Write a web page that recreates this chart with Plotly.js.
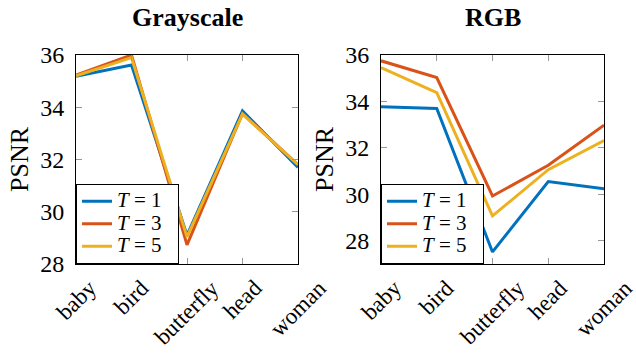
<!DOCTYPE html>
<html>
<head>
<meta charset="utf-8">
<script src="https://cdn.plot.ly/plotly-3.0.1.min.js"></script>
<style>html,body{margin:0;padding:0;background:#fff;}#chart{width:636px;height:360px;}</style>
</head>
<body>
<div id="chart"></div>
<script>
const categories = ["baby", "bird", "butterfly", "head", "woman"];
const seriesNames = ["<i>T</i> = 1", "<i>T</i> = 3", "<i>T</i> = 5"];
const grayT1 = [35.19, 35.62, 29.10, 33.86, 31.70];
const grayT3 = [35.23, 36.00, 28.73, 33.76, 31.80];
const grayT5 = [35.20, 35.90, 29.04, 33.74, 31.80];
const rgbT1 = [33.77, 33.70, 27.52, 30.55, 30.24];
const rgbT3 = [35.75, 35.03, 29.93, 31.25, 32.98];
const rgbT5 = [35.46, 34.38, 29.07, 31.06, 32.32];
const panelTitles = ["Grayscale", "RGB"];
const yTitle = "PSNR";

const colors = ["#0072BD", "#D95319", "#EDB120"];
const FONT = "Liberation Serif";

function legendLabel(s) {
  return '<span style="font-size:21px">' + s + '&nbsp;&nbsp;</span>';
}

const traces = [];
[grayT1, grayT3, grayT5].forEach((ys, i) => traces.push({
  x: categories, y: ys, type: "scatter", mode: "lines", name: legendLabel(seriesNames[i]),
  line: {color: colors[i], width: 3}, xaxis: "x", yaxis: "y", legend: "legend"
}));
[rgbT1, rgbT3, rgbT5].forEach((ys, i) => traces.push({
  x: categories, y: ys, type: "scatter", mode: "lines", name: legendLabel(seriesNames[i]),
  line: {color: colors[i], width: 3}, xaxis: "x2", yaxis: "y2", legend: "legend2"
}));

const W = 636, H = 360;
const leftDom = [76 / W, 298 / W];
const rightDom = [381 / W, 604 / W];
const yDom = [1 - 264 / H, 1 - 55 / H];

function xaxisDef(dom, anchor) {
  return {
    domain: dom, anchor: anchor, type: "category", range: [0, 4],
    showgrid: false, zeroline: false, showline: true, linecolor: "#000", linewidth: 1,
    mirror: "ticks", ticks: "inside", ticklen: 6, tickcolor: "#999", tickwidth: 1,
    showticklabels: false
  };
}
function yaxisDef(range, anchor) {
  return {
    domain: yDom, anchor: anchor, range: range, dtick: 2, tick0: 0,
    showgrid: false, zeroline: false, showline: true, linecolor: "#000", linewidth: 1,
    mirror: "ticks", ticks: "inside", ticklen: 6, tickcolor: "#999", tickwidth: 1,
    tickfont: {family: FONT, size: 24, color: "#000"}, ticklabelstandoff: 6,
    title: {text: yTitle, font: {family: FONT, size: 26, color: "#000"}, standoff: 4}
  };
}

const annotations = [];
categories.forEach(c => {
  ["x", "x2"].forEach(xr => annotations.push({
    x: c, xref: xr, y: 1 - 274 / H, yref: "paper", xanchor: "center", yanchor: "top",
    text: c, textangle: -45, showarrow: false, borderpad: 0,
    font: {family: FONT, size: 23, color: "#000"}
  }));
});
annotations.push({
  x: (leftDom[0] + leftDom[1]) / 2, y: 1 - 17 / H, xref: "paper", yref: "paper",
  xanchor: "center", yanchor: "middle", showarrow: false,
  text: "<b>" + panelTitles[0] + "</b>", font: {family: FONT, size: 26, color: "#000"}
});
annotations.push({
  x: (rightDom[0] + rightDom[1]) / 2, y: 1 - 17 / H, xref: "paper", yref: "paper",
  xanchor: "center", yanchor: "middle", showarrow: false,
  text: "<b>" + panelTitles[1] + "</b>", font: {family: FONT, size: 26, color: "#000"}
});

function legendDef(x) {
  return {
    x: x, y: yDom[0], xref: "paper", yref: "paper", xanchor: "left", yanchor: "bottom",
    bgcolor: "#fff", bordercolor: "#000", borderwidth: 1,
    font: {family: FONT, size: 15, color: "#000"}, tracegroupgap: 0
  };
}

const layout = {
  width: W, height: H, margin: {l: 0, r: 0, t: 0, b: 0},
  paper_bgcolor: "#fff", plot_bgcolor: "#fff",
  font: {family: FONT, color: "#000"},
  showlegend: true,
  xaxis: xaxisDef(leftDom, "y"),
  yaxis: yaxisDef([28, 36], "x"),
  xaxis2: xaxisDef(rightDom, "y2"),
  yaxis2: yaxisDef([27, 36], "x2"),
  legend: legendDef(leftDom[0]),
  legend2: legendDef(rightDom[0]),
  annotations: annotations
};

Plotly.newPlot("chart", traces, layout, {staticPlot: true, displayModeBar: false});
</script>
</body>
</html>
